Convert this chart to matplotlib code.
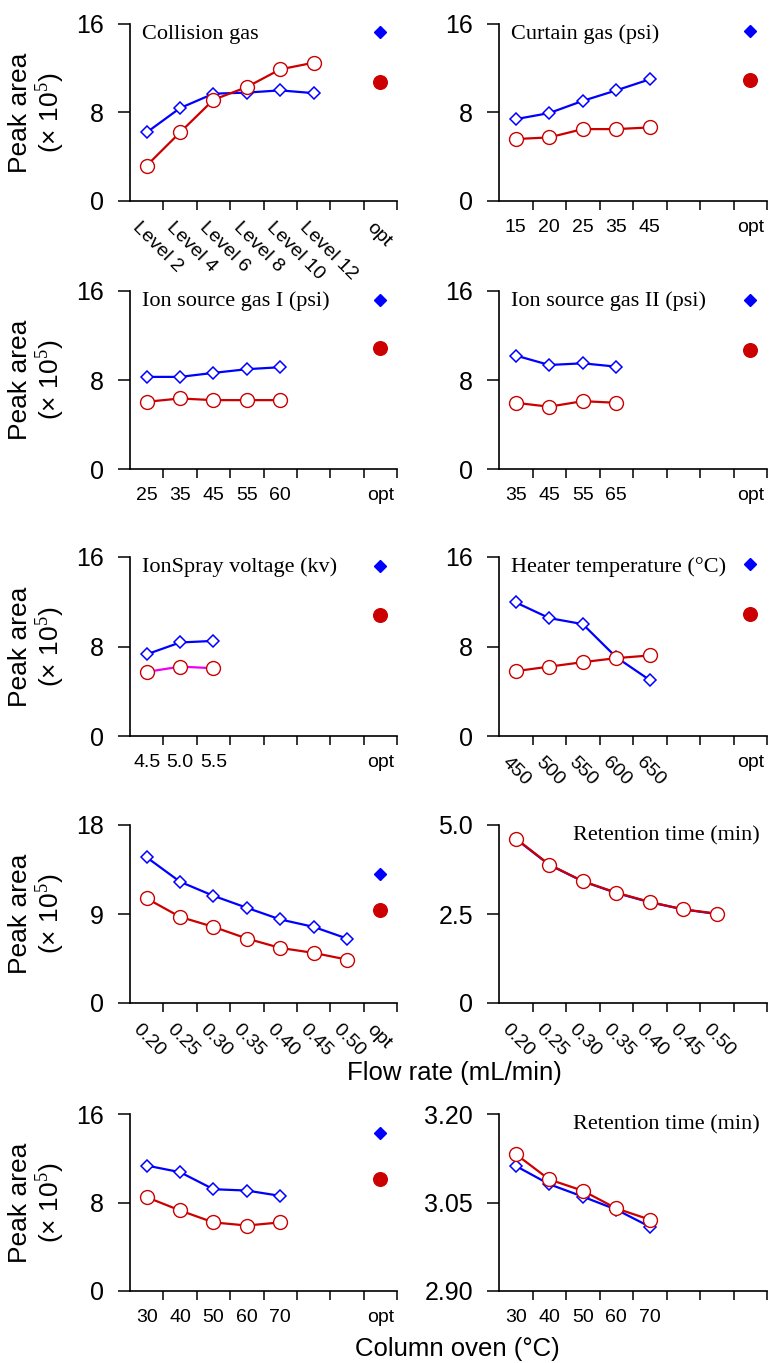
import matplotlib.pyplot as plt
from matplotlib.transforms import ScaledTranslation
import numpy as np

plt.rcParams['font.family'] = ['Liberation Sans', 'DejaVu Sans']
plt.rcParams['mathtext.fontset'] = 'custom'
plt.rcParams['mathtext.rm'] = 'Liberation Serif'

# --- data (peak area x 1e5, retention time in min) ---
collision_labels = ["Level 2", "Level 4", "Level 6", "Level 8", "Level 10", "Level 12"]
collision_blue = [6.2, 8.4, 9.7, 9.8, 10.0, 9.75]
collision_red = [3.2, 6.2, 9.15, 10.3, 11.9, 12.5]
collision_opt = [15.3, 10.8]

curtain_labels = ["15", "20", "25", "35", "45"]
curtain_blue = [7.4, 7.95, 9.05, 10.0, 11.0]
curtain_red = [5.6, 5.75, 6.5, 6.5, 6.65]
curtain_opt = [15.4, 10.9]

gas1_labels = ["25", "35", "45", "55", "60"]
gas1_blue = [8.28, 8.28, 8.64, 8.97, 9.15]
gas1_red = [6.04, 6.34, 6.19, 6.19, 6.19]
gas1_opt = [15.2, 10.9]

gas2_labels = ["35", "45", "55", "65"]
gas2_blue = [10.2, 9.35, 9.5, 9.2]
gas2_red = [5.95, 5.6, 6.1, 5.95]
gas2_opt = [15.2, 10.7]

spray_labels = ["4.5", "5.0", "5.5"]
spray_blue = [7.3, 8.36, 8.5]
spray_red = [5.73, 6.2, 6.06]
spray_opt = [15.2, 10.8]

heater_labels = ["450", "500", "550", "600", "650"]
heater_blue = [11.94, 10.54, 10.0, 7.04, 5.0]
heater_red = [5.8, 6.2, 6.6, 6.96, 7.2]
heater_opt = [15.4, 10.9]

flow_labels = ["0.20", "0.25", "0.30", "0.35", "0.40", "0.45", "0.50"]
flow_blue = [14.73, 12.26, 10.84, 9.63, 8.45, 7.7, 6.52]
flow_red = [10.57, 8.71, 7.7, 6.52, 5.57, 5.07, 4.39]
flow_opt = [13.0, 9.4]
flow_rt_blue = [4.61, 3.88, 3.42, 3.09, 2.83, 2.63, 2.50]
flow_rt_red = [4.62, 3.89, 3.42, 3.10, 2.84, 2.63, 2.51]

oven_labels = ["30", "40", "50", "60", "70"]
oven_blue = [11.34, 10.74, 9.2, 9.08, 8.6]
oven_red = [8.48, 7.28, 6.2, 5.92, 6.2]
oven_opt = [14.26, 10.1]
oven_rt_blue = [3.112, 3.081, 3.060, 3.038, 3.009]
oven_rt_red = [3.132, 3.089, 3.070, 3.040, 3.021]

BLUE = "#0000ff"
RED = "#cc0000"
MAGENTA = "#ee00ee"

W, H = 769, 1363
fig = plt.figure(figsize=(W / 100, H / 100), dpi=100)

rows_px = [(24, 201), (291, 469), (557, 736), (825, 1003), (1114, 1291)]
cols_px = [(130, 267), (499, 268)]
N_SLOTS = 8
OPT_POS = 7


def make_ax(r, c):
    top, bot = rows_px[r]
    left, w = cols_px[c]
    return fig.add_axes([left / W, 1 - bot / H, w / W, (bot - top) / H])


def panel(ax, labels, blue, red, opt=None, ylim=(0, 16), yticks=(0, 8, 16),
          yticklabels=None, title=None, title_right=False, rot=False,
          opt_label=True, opt_rot=False, red_line=RED, ylabel=True):
    x = np.arange(len(labels))
    ax.plot(x, blue, color=BLUE, lw=1.6, marker="D", ms=6.5, mfc="white",
            mec=BLUE, mew=1.1, zorder=3, clip_on=False)
    ax.plot(x, red, color=red_line, lw=1.6, marker="o", ms=10, mfc="white",
            mec=RED, mew=1.0, zorder=4, clip_on=False)
    if opt is not None:
        ax.plot([OPT_POS], [opt[0]], marker="D", ms=6.3, color=BLUE, ls="none", zorder=4)
        ax.plot([OPT_POS], [opt[1]], marker="o", ms=9.8, color=RED, ls="none", zorder=4)

    ax.set_xlim(-0.5, N_SLOTS - 0.5)
    ax.set_ylim(*ylim)
    ax.set_yticks(yticks)
    if yticklabels is not None:
        ax.set_yticklabels(yticklabels)

    # boundary ticks (major, no labels) and labels at slot centres (minor)
    ax.set_xticks(np.arange(0.5, N_SLOTS, 1.0))
    ax.set_xticklabels([])
    centres = list(x)
    names = list(labels)
    if opt_label:
        centres.append(OPT_POS)
        names.append("opt")
    ax.set_xticks(centres, minor=True)
    ax.set_xticklabels(names, minor=True)

    ax.tick_params(axis="x", which="major", length=6.5, width=1.1, direction="out")
    ax.tick_params(axis="x", which="minor", length=0, pad=13, labelsize=14)
    ax.tick_params(axis="y", length=8.6, width=1.1, direction="out", pad=10,
                   labelsize=18)

    shift = ScaledTranslation(-0.05, 0, fig.dpi_scale_trans)
    for i, lbl in enumerate(ax.get_xticklabels(minor=True)):
        is_opt = opt_label and i == len(centres) - 1
        if (rot and not is_opt) or (is_opt and opt_rot):
            lbl.set_rotation(-45)
            lbl.set_ha("left")
            lbl.set_va("top")
            lbl.set_rotation_mode("anchor")
            lbl.set_transform(lbl.get_transform() + shift)

    for s in ("top", "right"):
        ax.spines[s].set_visible(False)
    for s in ("left", "bottom"):
        ax.spines[s].set_linewidth(1.2)

    if title:
        wpx = ax.get_position().width * W
        hpx = ax.get_position().height * H
        if title_right:
            ax.text(1 - 7 / wpx, 1 - 15 / hpx, title, transform=ax.transAxes,
                    ha="right", va="baseline", fontsize=16, family="Liberation Serif")
        else:
            ax.text(12 / wpx, 1 - 15 / hpx, title, transform=ax.transAxes,
                    ha="left", va="baseline", fontsize=16, family="Liberation Serif")

    if ylabel:
        ax.set_ylabel("Peak area\n(× 10$^{5}$)", fontsize=19, linespacing=1.05)
        ax.yaxis.set_label_coords(-63 / (ax.get_position().width * W), 0.5)


ax = make_ax(0, 0)
panel(ax, collision_labels, collision_blue, collision_red, collision_opt,
      title="Collision gas", rot=True, opt_rot=True)
ax = make_ax(0, 1)
panel(ax, curtain_labels, curtain_blue, curtain_red, curtain_opt,
      title="Curtain gas (psi)", ylabel=False)

ax = make_ax(1, 0)
panel(ax, gas1_labels, gas1_blue, gas1_red, gas1_opt, title="Ion source gas I (psi)")
ax = make_ax(1, 1)
panel(ax, gas2_labels, gas2_blue, gas2_red, gas2_opt,
      title="Ion source gas II (psi)", ylabel=False)

ax = make_ax(2, 0)
panel(ax, spray_labels, spray_blue, spray_red, spray_opt,
      title="IonSpray voltage (kv)", red_line=MAGENTA)
ax = make_ax(2, 1)
panel(ax, heater_labels, heater_blue, heater_red, heater_opt,
      title="Heater temperature (°C)", rot=True, ylabel=False)

ax = make_ax(3, 0)
panel(ax, flow_labels, flow_blue, flow_red, flow_opt, ylim=(0, 18),
      yticks=(0, 9, 18), rot=True, opt_rot=True)
ax = make_ax(3, 1)
panel(ax, flow_labels, flow_rt_blue, flow_rt_red, None, ylim=(0, 5),
      yticks=(0, 2.5, 5.0), yticklabels=["0", "2.5", "5.0"],
      title="Retention time (min)", title_right=True, rot=True,
      opt_label=False, ylabel=False)

ax = make_ax(4, 0)
panel(ax, oven_labels, oven_blue, oven_red, oven_opt)
ax = make_ax(4, 1)
panel(ax, oven_labels, oven_rt_blue, oven_rt_red, None, ylim=(2.90, 3.20),
      yticks=(2.90, 3.05, 3.20), yticklabels=["2.90", "3.05", "3.20"],
      title="Retention time (min)", title_right=True, opt_label=False,
      ylabel=False)

fig.text(454 / W, 1 - 1073 / H, "Flow rate (mL/min)", ha="center", va="center", fontsize=18.5)
fig.text(457 / W, 1 - 1349 / H, "Column oven (°C)", ha="center", va="center", fontsize=18.5)

fig.savefig("out.png", dpi=100)
